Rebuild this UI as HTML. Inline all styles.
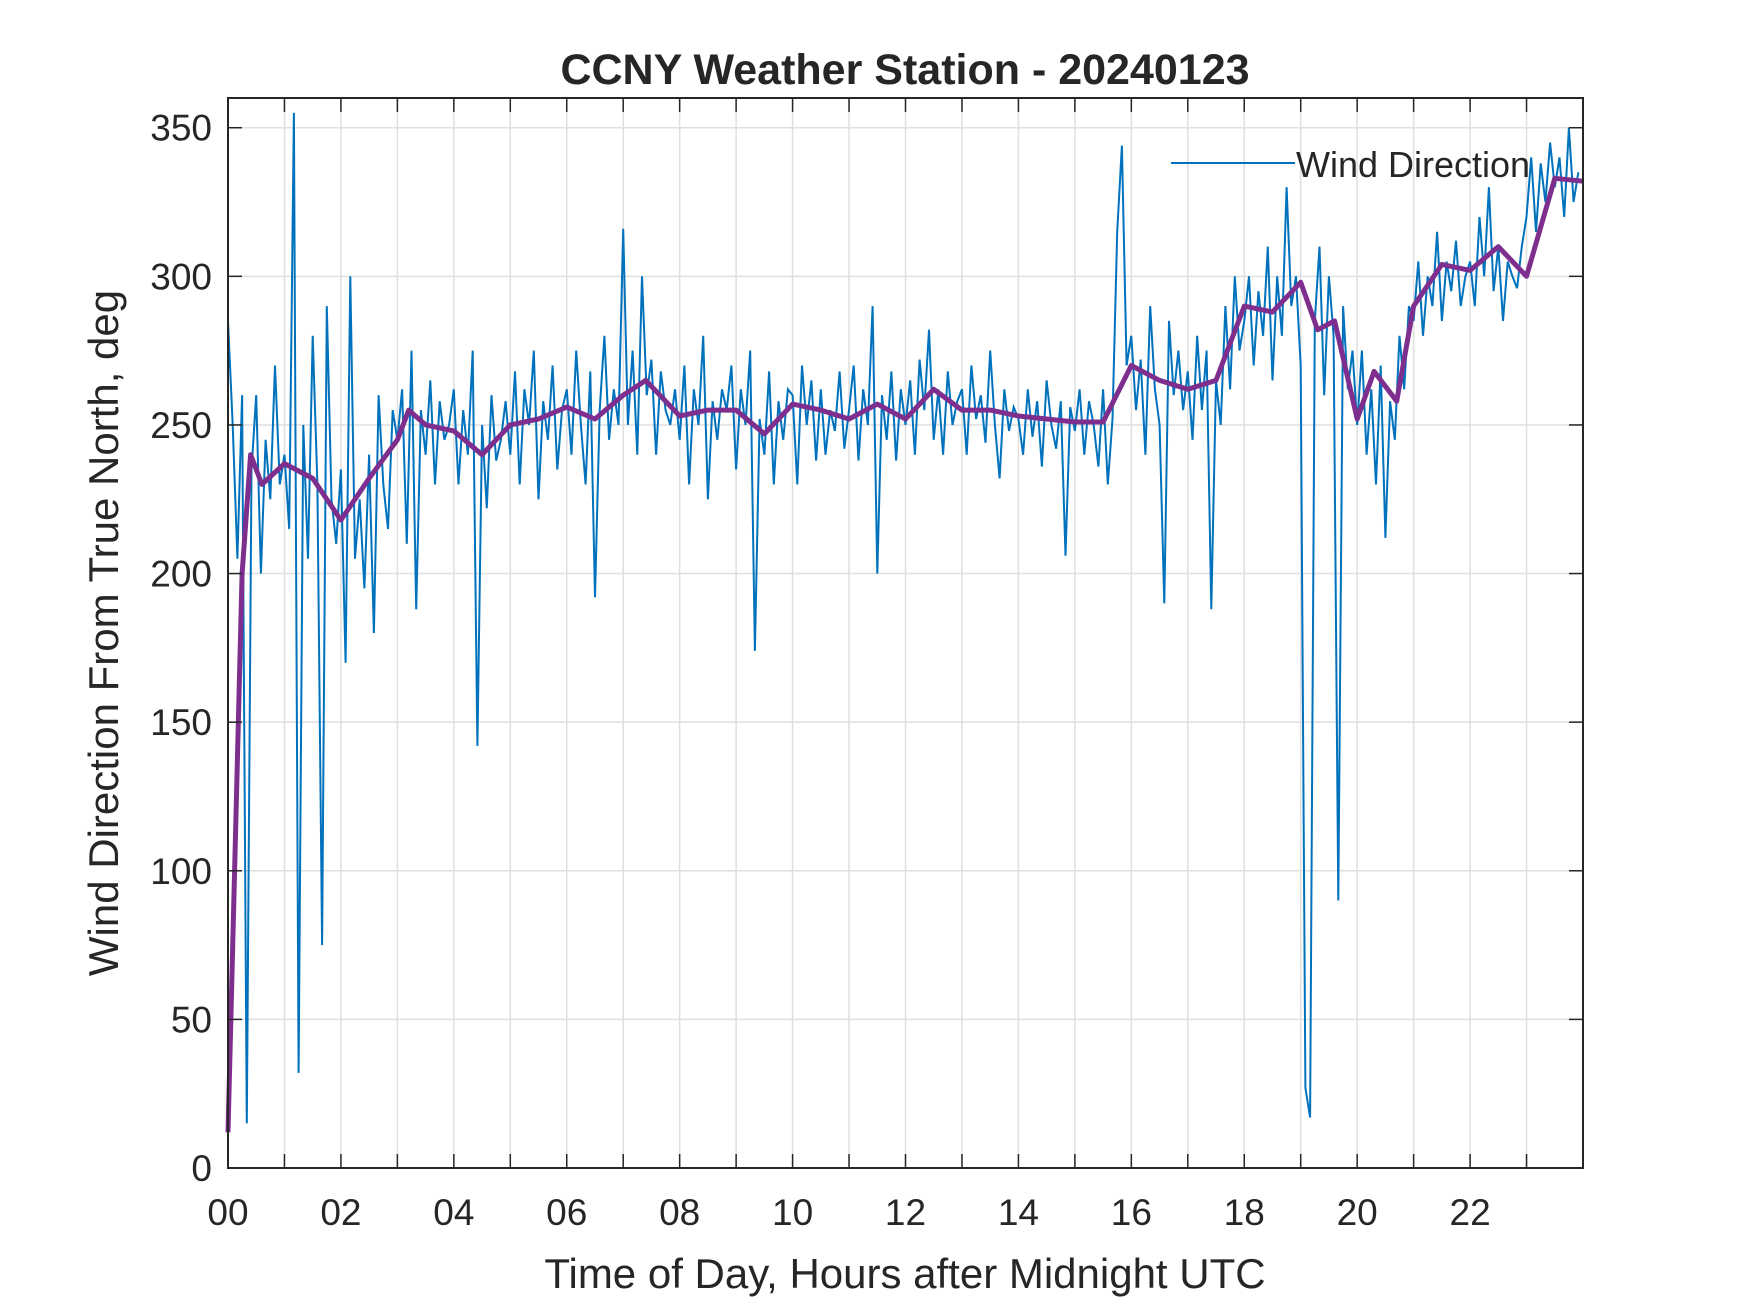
<!DOCTYPE html>
<html><head><meta charset="utf-8"><style>body{margin:0;background:#fff}svg{display:block}text{font-family:"Liberation Sans",Arial,sans-serif;fill:#262626}</style></head>
<body>
<svg id="chart" width="1750" height="1313" viewBox="0 0 1750 1313">
<rect width="1750" height="1313" fill="#fff"/>
<g id="grid"></g>
<g id="marks"></g>
<g id="axes"></g>
<text x="905" y="84" text-anchor="middle" font-size="43" font-weight="bold" fill="#000">CCNY Weather Station - 20240123</text>
<text x="905" y="1288" text-anchor="middle" font-size="42">Time of Day, Hours after Midnight UTC</text>
<text transform="translate(118,633) rotate(-90)" text-anchor="middle" font-size="42">Wind Direction From True North, deg</text>
<g>
<line x1="1171" y1="163" x2="1295" y2="163" stroke="#0072BD" stroke-width="2"/>
<text x="1296" y="177" font-size="36" fill="#000">Wind Direction</text>
</g>
</svg>
<script>
const rawValues = [
285,250,205,260,15,235,260,200,245,225,270,230,
240,215,355,32,250,205,280,230,75,290,225,210,
235,170,300,205,225,195,240,180,260,230,215,255,
245,262,210,275,188,255,240,265,230,258,245,250,
262,230,255,240,275,142,250,222,260,238,245,258,
240,268,230,262,250,275,225,258,245,270,235,255,
262,240,275,250,230,268,192,255,280,245,262,250,
316,250,275,240,300,260,272,240,268,255,250,262,
245,270,230,262,250,280,225,258,245,262,255,270,
235,262,250,275,174,252,240,268,230,258,245,262,
260,230,270,250,265,238,262,240,255,248,268,242,
255,270,238,262,250,290,200,260,245,268,238,262,
250,265,240,272,255,282,245,262,240,268,250,258,
262,240,270,252,260,244,275,250,232,262,248,256,
252,240,262,246,258,236,265,250,242,258,206,256,
248,262,240,258,250,236,262,230,252,315,344,270,
280,255,272,240,290,262,250,190,285,260,275,255,
268,245,280,255,275,188,265,250,290,262,300,275,
285,300,270,295,280,310,265,300,280,330,290,300,
270,27,17,285,310,260,300,280,90,290,262,275,
250,275,240,262,230,270,212,258,245,280,262,290,
285,305,280,300,290,315,285,305,295,312,290,300,
305,290,320,300,330,295,310,285,305,300,296,310,
320,340,315,338,325,345,330,340,320,350,325,335];
const rawStepHours = 5/60;
const smoothHours = [0,0.25,0.4,0.6,1,1.5,2,2.5,3,3.2,3.5,4,4.5,5,5.5,6,6.5,7,7.4,8,8.5,9,9.5,10,10.5,11,11.5,12,12.5,13,13.5,14,14.5,15,15.5,16,16.5,17,17.5,18,18.5,19,19.3,19.6,20,20.3,20.7,21,21.5,22,22.5,23,23.5,24];
const smoothValues = [12,200,240,230,237,232,218,232,245,255,250,248,240,250,252,256,252,260,265,253,255,255,247,257,255,252,257,252,262,255,255,253,252,251,251,270,265,262,265,290,288,298,282,285,252,268,258,290,304,302,310,300,333,332];
const xTicks = [0,1,2,3,4,5,6,7,8,9,10,11,12,13,14,15,16,17,18,19,20,21,22,23,24];
const xTickLabels = ["00","","02","","04","","06","","08","","10","","12","","14","","16","","18","","20","","22","",""];
const yTicks = [0,50,100,150,200,250,300,350];

const L=228,R=1583,T=98,B=1168;
const sx=h=>L+h/24*(R-L), sy=v=>B-v/360*(B-T);
const NS='http://www.w3.org/2000/svg';
function mk(tag,attrs,parent){const e=document.createElementNS(NS,tag);for(const k in attrs)e.setAttribute(k,attrs[k]);parent.appendChild(e);return e;}
const grid=document.getElementById('grid'),marks=document.getElementById('marks'),axes=document.getElementById('axes');
xTicks.forEach((t,i)=>{
  const x=sx(t);
  if(t>0&&t<24){const g=mk('line',{x1:x,y1:T,x2:x,y2:B,stroke:'#dfdfdf','stroke-width':1.5},grid);
  
  }
  const a=mk('line',{x1:x,y1:B,x2:x,y2:B-14,stroke:'#262626','stroke-width':1.5},axes);
  
  
  const b=mk('line',{x1:x,y1:T,x2:x,y2:T+14,stroke:'#262626','stroke-width':1.5},axes);
  
  
  if(xTickLabels[i]){const tx=mk('text',{x:x,y:B+57,'text-anchor':'middle','font-size':37},axes);tx.textContent=xTickLabels[i];
  
  }
});
yTicks.forEach(t=>{
  const y=sy(t);
  if(t>0){const g=mk('line',{x1:L,y1:y,x2:R,y2:y,stroke:'#dfdfdf','stroke-width':1.5},grid);
  
  }
  const a=mk('line',{x1:L,y1:y,x2:L+14,y2:y,stroke:'#262626','stroke-width':1.5},axes);
  
  
  const b=mk('line',{x1:R,y1:y,x2:R-14,y2:y,stroke:'#262626','stroke-width':1.5},axes);
  
  
  const tx=mk('text',{x:L-16,y:y+13,'text-anchor':'end','font-size':37},axes);tx.textContent=t;
  
  
});
const frame=mk('rect',{x:L,y:T,width:R-L,height:B-T,fill:'none',stroke:'#262626','stroke-width':2},axes);


const rawPts=rawValues.map((v,i)=>sx(i*rawStepHours).toFixed(1)+','+sy(v).toFixed(1)).join(' ');
const raw=mk('polyline',{points:rawPts,fill:'none',stroke:'#0072BD','stroke-width':2},marks);


const smPts=smoothHours.map((h,i)=>sx(h).toFixed(1)+','+sy(smoothValues[i]).toFixed(1)).join(' ');
const sm=mk('polyline',{points:smPts,fill:'none',stroke:'#7E2F8E','stroke-width':5,'stroke-linejoin':'round'},marks);


</script>
</body></html>
